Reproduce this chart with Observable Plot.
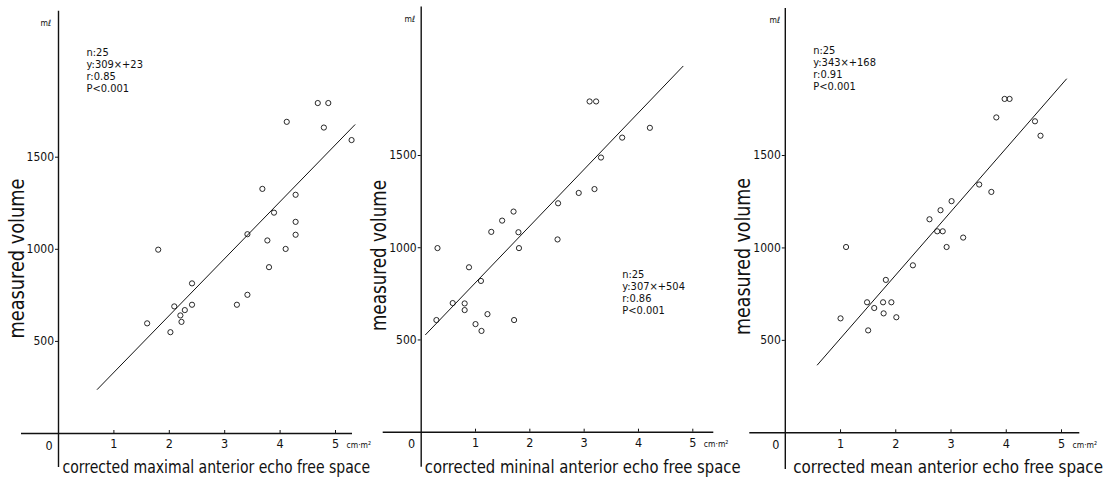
<!DOCTYPE html>
<html><head><meta charset="utf-8">
<script src="https://cdn.jsdelivr.net/npm/d3@7"></script>
<script src="https://cdn.jsdelivr.net/npm/@observablehq/plot@0.6"></script>
<style>
body{margin:0;background:#fff;}
#wrap{position:relative;width:1118px;height:489px;overflow:hidden;background:#fff;}
#wrap svg{position:absolute;top:0;overflow:visible;}
</style></head><body><div id="wrap"></div>
<script>
// ---- data ----
const xTicks = [1, 2, 3, 4, 5];
const yTicks = [500, 1000, 1500];
const yLabel = "measured volume";
const xUnit = "cm·m²";
const yUnit = "mℓ";
const xLabels = [
  "corrected maximal anterior echo free space",
  "corrected mininal anterior echo free space",
  "corrected mean anterior echo free space"
];
const stats = [
  ["n:25", "y:309×+23", "r:0.85", "P<0.001"],
  ["n:25", "y:307×+504", "r:0.86", "P<0.001"],
  ["n:25", "y:343×+168", "r:0.91", "P<0.001"]
];
const slopes = [309, 307, 343];
const intercepts = [23, 504, 168];
const fitFrom = [0.70, 0.08, 0.58];
const fitTo = [5.35, 4.82, 5.09];

const maximalX = [4.68, 4.87, 4.12, 4.79, 5.29, 3.68, 4.28, 3.89, 4.28, 3.41, 4.28, 3.77, 4.10, 1.80, 3.80, 2.41, 3.41, 2.09, 3.22, 2.41, 2.28, 2.20, 2.22, 1.60, 2.02];
const maximalY = [1794, 1794, 1692, 1661, 1593, 1328, 1296, 1199, 1149, 1082, 1079, 1048, 1002, 998, 903, 815, 753, 690, 699, 699, 670, 641, 606, 598, 550];
const minimalX = [3.10, 3.22, 4.21, 3.70, 3.31, 2.90, 3.19, 2.52, 1.70, 1.49, 1.29, 1.79, 2.51, 1.80, 0.30, 0.88, 1.10, 0.58, 0.80, 0.80, 0.28, 1.22, 1.00, 1.71, 1.11];
const minimalY = [1793, 1793, 1650, 1597, 1489, 1297, 1318, 1241, 1196, 1147, 1086, 1084, 1045, 998, 998, 894, 820, 700, 698, 662, 608, 640, 586, 608, 549];
const meanX = [3.97, 4.06, 3.82, 4.52, 4.62, 3.51, 3.73, 3.01, 2.81, 2.61, 2.75, 2.85, 3.22, 2.92, 1.10, 2.31, 1.82, 1.48, 1.77, 1.92, 1.61, 1.78, 1.00, 2.01, 1.50];
const meanY = [1806, 1806, 1706, 1685, 1607, 1343, 1303, 1253, 1204, 1155, 1090, 1090, 1056, 1005, 1005, 906, 827, 706, 706, 706, 675, 646, 619, 625, 554];

const seriesX = [maximalX, minimalX, meanX];
const seriesY = [maximalY, minimalY, meanY];

// ---- layout (pixels, page coordinates) ----
const FONT = "'Liberation Sans Narrow','DejaVu Sans Condensed','Liberation Sans',Arial,sans-serif";
const layout = [
  {L: 0,   W: 372, x0: 58,    x5: 335,    y0: 433,   y1500: 156.7, axL: 21,    axR: 352,    axT: 10.7, axB: 467,
   unitX: 40, unitY: 19, statX: 86, statY: 47.5, labStart: 62, labLen: 308, yLabY: 258, yLabLen: 160},
  {L: 370, W: 370, x0: 420.7, x5: 692.3,  y0: 431.7, y1500: 155,   axL: 382.7, axR: 713.3,  axT: 6.5,  axB: 466.7,
   unitX: 404, unitY: 15, statX: 621.7, statY: 269, labStart: 424.3, labLen: 316, yLabY: 255, yLabLen: 151},
  {L: 740, W: 378, x0: 784.8, x5: 1061,   y0: 432.3, y1500: 155,   axL: 749.3, axR: 1079.3, axT: 8,    axB: 469,
   unitX: 769, unitY: 16.7, statX: 812.7, statY: 45.5, labStart: 792.7, labLen: 310, yLabY: 256, yLabLen: 157}
];

const wrap = document.getElementById("wrap");
const H = 489;

function fitLength(el, target) {
  const natural = el.getComputedTextLength();
  if (!natural) return;
  const s = target / natural;
  const tr = el.getAttribute("transform") || "";
  el.setAttribute("transform", tr + ` scale(${s.toFixed(4)},1)`);
}

layout.forEach((g, i) => {
  const mL = g.x0 - g.L;
  const mR = g.W - (g.x5 - g.L);
  const mT = g.y1500;
  const mB = H - g.y0;
  const kx = (g.x5 - g.x0) / 5;
  const ky = (g.y0 - g.y1500) / 1500;
  const pts = seriesX[i].map((x, j) => ({x, y: seriesY[i][j]}));
  const fit = [fitFrom[i], fitTo[i]].map(x => ({x, y: slopes[i] * x + intercepts[i]}));
  const xExt = [(g.axL - g.x0) / kx, (g.axR - g.x0) / kx];
  const yExt = [(g.y0 - g.axB) / ky, (g.y0 - g.axT) / ky];

  const svg = Plot.plot({
    width: g.W, height: H,
    marginLeft: mL, marginRight: mR, marginTop: mT, marginBottom: mB,
    x: {domain: [0, 5]},
    y: {domain: [0, 1500]},
    style: {fontFamily: FONT, background: "transparent", color: "#111", overflow: "visible"},
    marks: [
      Plot.ruleY([0], {x1: xExt[0], x2: xExt[1], stroke: "#111", strokeWidth: 1.4}),
      Plot.ruleX([0], {y1: yExt[0], y2: yExt[1], stroke: "#111", strokeWidth: 1.4}),
      Plot.ruleX(xTicks, {x: d => d, y1: 0, y2: 0, insetTop: -3, stroke: "#111", strokeWidth: 1}),
      Plot.axisY(yTicks, {anchor: "left", tickSize: 3, tickPadding: 1.5, fontSize: 12, label: null, stroke: "#111", tickFormat: d => String(d)}),
      Plot.axisX(xTicks, {anchor: "bottom", tickSize: 0, tickPadding: 6, fontSize: 12.5, label: null, tickFormat: d => String(d)}),
      Plot.text(["0"], {x: 0, y: 0, dx: -9.5, dy: 12, fontSize: 12.5, fill: "#111"}),
      Plot.text([xUnit], {x: 5, y: 0, dx: 11, dy: 12, textAnchor: "start", fontSize: 8.5, fill: "#111"}),
      Plot.text([yUnit], {frameAnchor: "top-left", dx: g.unitX - g.x0, dy: g.unitY - mT, textAnchor: "start", fontSize: 8.5, fill: "#111"}),
      Plot.text([stats[i].join("\n")], {frameAnchor: "top-left", dx: g.statX - g.x0, dy: g.statY - mT, textAnchor: "start", lineAnchor: "top", lineHeight: 1.08, fontSize: 11, fill: "#111"}),
      Plot.text([yLabel], {frameAnchor: "top-left", dx: -42, dy: g.yLabY - mT, rotate: -90, textAnchor: "middle", lineAnchor: "middle", fontSize: 22, fill: "#111"}),
      Plot.text([xLabels[i]], {x: 0, y: 0, dx: g.labStart - g.x0, dy: 467 - g.y0, textAnchor: "start", lineAnchor: "middle", fontSize: 18, fill: "#111"}),
      Plot.line(fit, {x: "x", y: "y", stroke: "#111", strokeWidth: 1}),
      Plot.dot(pts, {x: "x", y: "y", r: 2.6, stroke: "#111", strokeWidth: 0.9, fill: "none"})
    ]
  });
  svg.style.left = g.L + "px";
  wrap.appendChild(svg);
  d3.select(svg).selectAll("text").each(function () {
    const t = this.textContent;
    if (t === yLabel) fitLength(this, g.yLabLen);
    if (t === xLabels[i]) fitLength(this, g.labLen);
  });
});
</script>
</body></html>
